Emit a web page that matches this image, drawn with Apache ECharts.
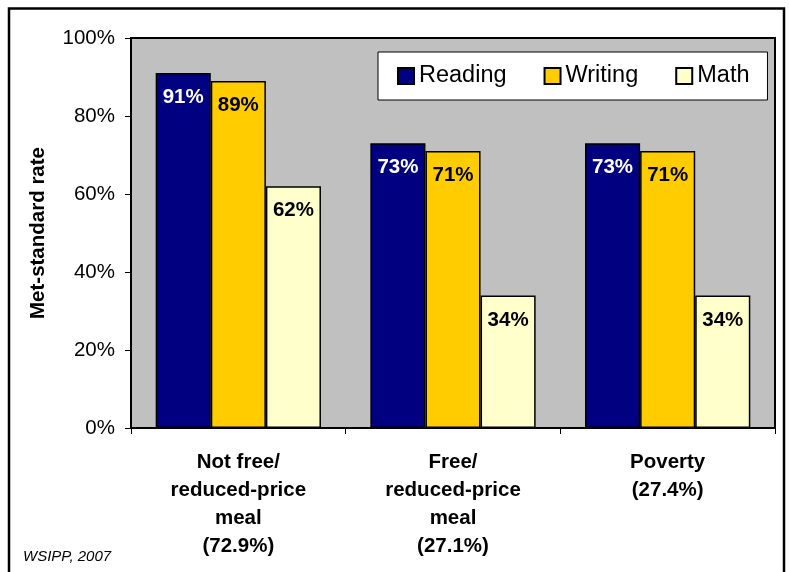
<!DOCTYPE html>
<html>
<head>
<meta charset="utf-8">
<title>Met-standard rate by meal status</title>
<script src="https://cdn.jsdelivr.net/npm/echarts@6/dist/echarts.min.js"></script>
<style>
  html, body { margin: 0; padding: 0; background: #fff; }
  #chart { width: 789px; height: 572px; }
</style>
</head>
<body>
<div id="chart"></div>
<script>
// Student groups (share of students in parentheses)
const categories = [
  'Not free/\nreduced-price\nmeal\n(72.9%)',
  'Free/\nreduced-price\nmeal\n(27.1%)',
  'Poverty\n(27.4%)'
];
const seriesNames = ['Reading', 'Writing', 'Math'];
const reading = [91, 73, 73];
const writing = [89, 71, 71];
const math = [62, 34, 34];
const yTicks = [0, 20, 40, 60, 80, 100];

const FONT = '"Liberation Sans", Arial, Helvetica, sans-serif';
const colors = ['#000080', '#FFCC00', '#FFFFCC'];
const labelColors = ['#FFFFFF', '#000000', '#000000'];
const values = [reading, writing, math];

const chart = echarts.init(document.getElementById('chart'), null, { renderer: 'canvas' });

const series = seriesNames.map((name, i) => ({
  name: name,
  type: 'bar',
  data: values[i],
  barGap: '0%',
  barCategoryGap: '23%',
  itemStyle: { color: colors[i], borderColor: '#000', borderWidth: 1.5 },
  label: {
    show: true,
    position: 'insideTop',
    distance: 14,
    formatter: '{c}%',
    fontFamily: FONT,
    fontWeight: 'bold',
    fontSize: 20.5,
    color: labelColors[i]
  }
}));

chart.setOption({
  backgroundColor: '#ffffff',
  animation: false,
  textStyle: { fontFamily: FONT, color: '#000' },
  grid: {
    left: 131, right: 14, top: 38, bottom: 144,
    show: true,
    backgroundColor: '#C0C0C0',
    borderColor: '#000',
    borderWidth: 2
  },
  legend: {
    data: seriesNames,
    left: 378,
    top: 52,
    orient: 'horizontal',
    backgroundColor: '#ffffff',
    borderColor: '#000',
    borderWidth: 1,
    padding: [12, 18, 12, 19],
    itemGap: 37,
    itemWidth: 16,
    itemHeight: 16,
    icon: 'rect',
    textStyle: { fontFamily: FONT, fontSize: 23.5, color: '#000' }
  },
  xAxis: {
    type: 'category',
    data: categories,
    axisLine: { show: true, lineStyle: { color: '#000', width: 2 } },
    axisTick: { show: true, alignWithLabel: false, length: 6, lineStyle: { color: '#000', width: 1 } },
    axisLabel: {
      margin: 20,
      fontFamily: FONT,
      fontWeight: 'bold',
      fontSize: 20.5,
      lineHeight: 28,
      color: '#000',
      verticalAlign: 'top',
      interval: 0
    }
  },
  yAxis: {
    type: 'value',
    min: yTicks[0],
    max: yTicks[yTicks.length - 1],
    interval: yTicks[1] - yTicks[0],
    name: 'Met-standard rate',
    nameLocation: 'middle',
    nameGap: 82,
    nameTextStyle: { fontFamily: FONT, fontWeight: 'bold', fontSize: 20.5, color: '#000' },
    axisLine: { show: true, lineStyle: { color: '#000', width: 2 } },
    axisTick: { show: true, inside: false, length: 6, lineStyle: { color: '#000', width: 1 } },
    splitLine: { show: false },
    axisLabel: {
      margin: 16,
      formatter: '{value}%',
      fontFamily: FONT,
      fontSize: 20.5,
      color: '#000'
    }
  },
  series: series,
  graphic: [
    {
      type: 'rect',
      shape: { x: 9, y: 8.5, width: 775, height: 600 },
      style: { fill: 'none', stroke: '#000', lineWidth: 2.5 },
      silent: true,
      z: 100
    },
    {
      type: 'text',
      left: 23,
      top: 549,
      style: {
        text: 'WSIPP, 2007',
        font: 'italic 15px ' + FONT,
        fill: '#000'
      }
    }
  ]
});
</script>
</body>
</html>
